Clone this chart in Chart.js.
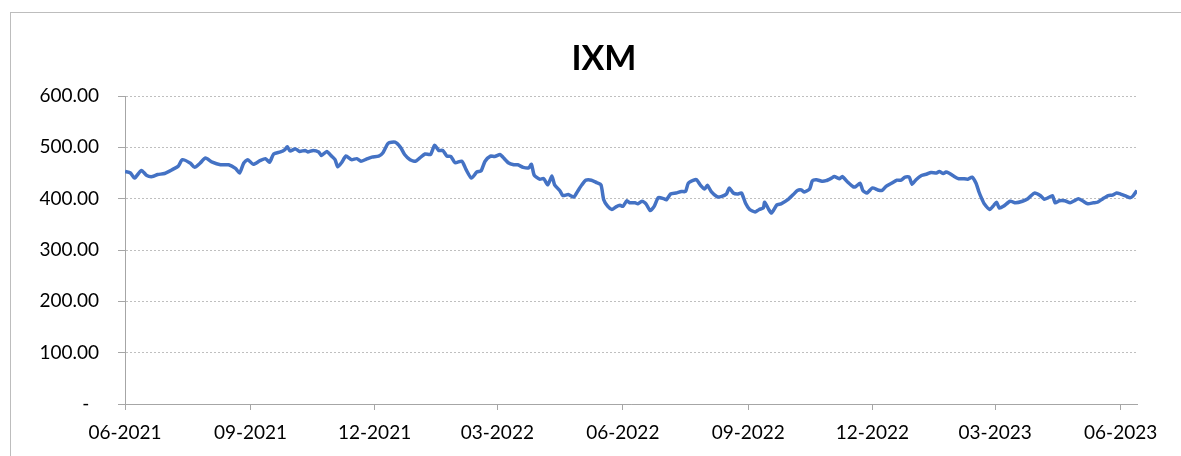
<!DOCTYPE html>
<html>
<head>
<meta charset="utf-8">
<title>IXM</title>
<script src="https://cdn.jsdelivr.net/npm/chart.js@4/dist/chart.umd.min.js"></script>
<style>
  html, body { margin: 0; padding: 0; background: #fff; }
  #wrap { width: 1181px; height: 456px; position: relative; }
</style>
</head>
<body>
<div id="wrap"><canvas id="ixmChart"></canvas></div>
<script>
// days since 1 Jun 2021
const dayOffsets = [
  0, 4, 7, 12, 16, 20, 24, 29, 35, 39, 42, 48, 51, 55, 59, 64, 70, 76, 81, 84,
  87, 90, 94, 99, 103, 106, 109, 114, 117, 119, 121, 125, 128, 132, 134, 138, 142, 144, 148, 151,
  154, 156, 159, 162, 166, 170, 173, 177, 181, 186, 189, 193, 198, 202, 205, 209, 213, 216, 220, 224,
  227, 230, 233, 236, 239, 242, 247, 250, 254, 258, 261, 264, 268, 271, 275, 277, 281, 285, 288, 292,
  296, 298, 300, 304, 307, 310, 313, 315, 319, 321, 325, 329, 332, 335, 338, 342, 346, 349, 351, 354,
  357, 360, 363, 365, 368, 370, 374, 376, 379, 382, 385, 388, 391, 395, 397, 400, 404, 408, 411, 413,
  417, 419, 422, 425, 427, 430, 434, 437, 441, 443, 446, 449, 452, 455, 458, 462, 465, 468, 469, 472,
  474, 478, 481, 486, 490, 493, 496, 498, 502, 504, 507, 511, 514, 518, 520, 524, 526, 530, 534, 536,
  539, 541, 544, 548, 552, 555, 558, 562, 566, 569, 572, 575, 577, 580, 584, 588, 591, 595, 597, 600,
  602, 604, 607, 611, 614, 618, 621, 624, 626, 628, 630, 634, 637, 639, 641, 644, 649, 653, 658, 662,
  664, 667, 671, 674, 677, 680, 682, 685, 689, 693, 696, 699, 702, 706, 710, 713, 717, 721, 724, 727,
  730, 734, 737, 739, 742
];

const prices = [
  453, 450, 440, 455, 445, 443, 447, 449, 457, 463, 476, 469, 461, 469, 479, 471, 466, 466, 459, 450,
  469, 476, 467, 474, 478, 471, 487, 491, 495, 501, 493, 497, 492, 494, 491, 494, 491, 484, 492, 484,
  476, 462, 471, 483, 476, 478, 473, 477, 481, 483, 489, 508, 510, 500, 486, 476, 473, 479, 487, 486,
  504, 494, 494, 483, 482, 470, 473, 457, 440, 452, 454, 473, 483, 482, 486, 481, 470, 466, 466, 461,
  460, 467, 446, 438, 439, 427, 444, 427, 415, 406, 408, 403, 415, 427, 436, 436, 431, 427, 398, 385,
  379, 384, 387, 385, 396, 392, 392, 390, 395, 390, 377, 385, 402, 400, 398, 409, 411, 414, 414, 430,
  436, 437, 426, 419, 426, 413, 404, 404, 409, 421, 411, 409, 411, 391, 379, 374, 379, 382, 393, 379,
  372, 388, 390, 398, 408, 416, 417, 413, 419, 435, 437, 434, 435, 440, 443, 439, 443, 432, 423, 424,
  430, 416, 411, 421, 417, 416, 424, 430, 436, 436, 442, 442, 428, 437, 445, 448, 451, 450, 453, 449,
  452, 450, 445, 439, 439, 438, 442, 430, 414, 401, 390, 379, 387, 393, 382, 385, 395, 392, 395, 400,
  405, 411, 406, 399, 402, 406, 392, 396, 396, 392, 396, 400, 396, 390, 392, 393, 400, 406, 407, 411,
  409, 405, 402, 405, 416
];

const tickDays = [0, 92, 183, 273, 365, 457, 548, 638, 730];
const tickLabels = ['06-2021', '09-2021', '12-2021', '03-2022', '06-2022', '09-2022', '12-2022', '03-2023', '06-2023'];
const yTicks = [0, 100, 200, 300, 400, 500, 600];
const chartTitle = 'IXM';

const FONT = 'Lato, "Liberation Sans", sans-serif';

// white background, light grey frame and the title centred on the frame
const frame = {
  id: 'frame',
  beforeDraw(chart) {
    const c = chart.ctx;
    c.save();
    c.fillStyle = '#fff';
    c.fillRect(0, 0, chart.width, chart.height);
    c.strokeStyle = '#bdbdbd';
    c.lineWidth = 1;
    c.strokeRect(10.5, 12.5, chart.width + 20, chart.height + 20);
    c.fillStyle = '#000';
    c.font = 'bold 34px ' + FONT;
    c.textAlign = 'center';
    c.textBaseline = 'middle';
    c.fillText(chartTitle, 604, 59);
    c.restore();
  }
};

const ctx = document.getElementById('ixmChart').getContext('2d');
new Chart(ctx, {
  type: 'line',
  data: {
    datasets: [{
      label: chartTitle,
      data: dayOffsets.map((d, i) => ({ x: d, y: prices[i] })),
      borderColor: '#4472C4',
      borderWidth: 3.5,
      pointRadius: 0,
      tension: 0.2,
      fill: false
    }]
  },
  options: {
    responsive: true,
    maintainAspectRatio: false,
    animation: false,
    layout: { padding: { left: 0, right: 44, top: 96, bottom: 0 } },
    plugins: {
      legend: { display: false },
      tooltip: { enabled: false },
      title: { display: false }
    },
    scales: {
      x: {
        type: 'linear',
        min: 0,
        max: 742,
        afterBuildTicks: (scale) => { scale.ticks = tickDays.map(v => ({ value: v })); },
        afterFit: (scale) => { scale.height = 52; },
        border: { display: true, color: '#a6a6a6', width: 1 },
        grid: {
          drawOnChartArea: false,
          drawTicks: true,
          tickLength: 6,
          tickColor: '#a6a6a6'
        },
        ticks: {
          autoSkip: false,
          maxRotation: 0,
          padding: 11,
          color: '#000',
          font: { family: FONT, size: 19 },
          callback: (v) => {
            const i = tickDays.indexOf(v);
            return i >= 0 ? tickLabels[i] : '';
          }
        }
      },
      y: {
        min: 0,
        max: 600,
        afterBuildTicks: (scale) => { scale.ticks = yTicks.map(v => ({ value: v })); },
        afterFit: (scale) => { scale.width = 125; },
        border: { display: true, color: '#a6a6a6', width: 1, dash: [2, 2] },
        grid: {
          color: '#bfbfbf',
          tickBorderDash: [],
          tickColor: '#a6a6a6',
          tickLength: 7
        },
        ticks: {
          padding: 19,
          color: '#000',
          font: { family: FONT, size: 19 },
          callback: (v) => v === 0 ? '-  ' : v.toFixed(2)
        }
      }
    }
  },
  plugins: [frame]
});
</script>
</body>
</html>
